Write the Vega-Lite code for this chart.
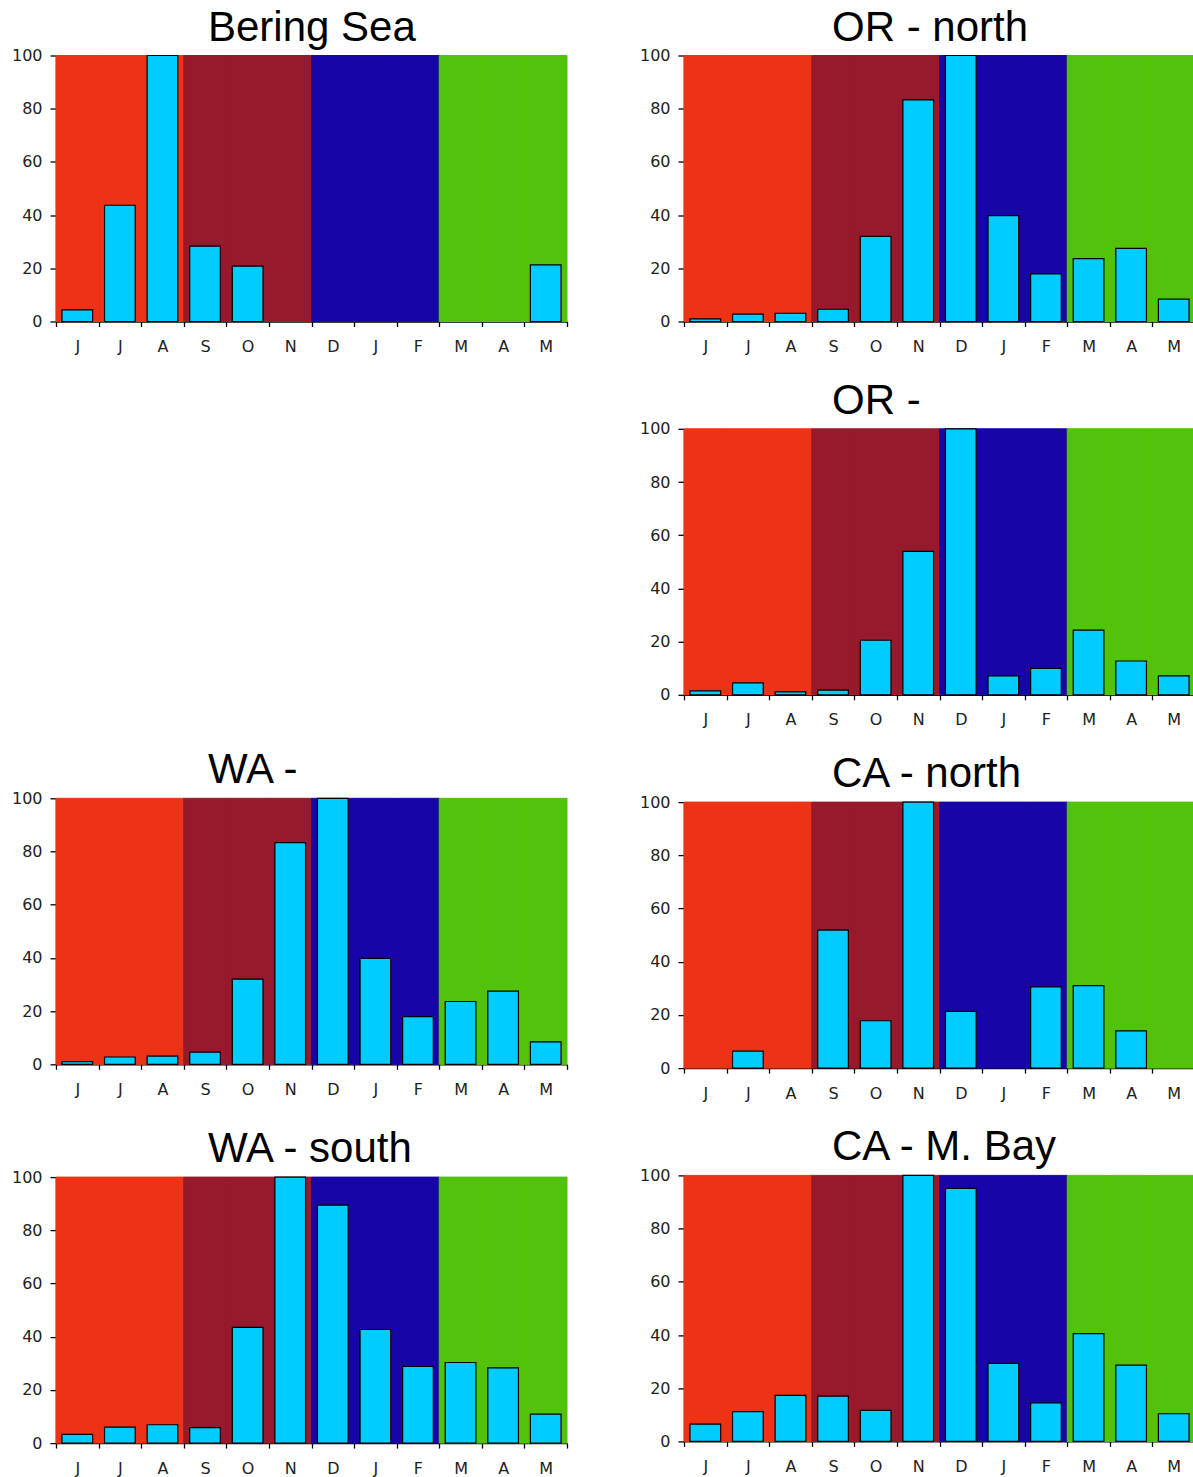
{
  "$schema": "https://vega.github.io/schema/vega-lite/v6.json",
  "padding": {"left": 11, "top": 6.5, "right": 0, "bottom": 0},
  "background": "white",
  "data": {"values": [
    {"panel": "Bering Sea", "month": "Jun", "season": "summer", "value": 4.4},
    {"panel": "Bering Sea", "month": "Jul", "season": "summer", "value": 43.7},
    {"panel": "Bering Sea", "month": "Aug", "season": "summer", "value": 100},
    {"panel": "Bering Sea", "month": "Sep", "season": "autumn", "value": 28.3},
    {"panel": "Bering Sea", "month": "Oct", "season": "autumn", "value": 20.8},
    {"panel": "Bering Sea", "month": "Nov", "season": "autumn", "value": 0},
    {"panel": "Bering Sea", "month": "Dec", "season": "winter", "value": 0},
    {"panel": "Bering Sea", "month": "Jan", "season": "winter", "value": 0},
    {"panel": "Bering Sea", "month": "Feb", "season": "winter", "value": 0},
    {"panel": "Bering Sea", "month": "Mar", "season": "spring", "value": 0},
    {"panel": "Bering Sea", "month": "Apr", "season": "spring", "value": 0},
    {"panel": "Bering Sea", "month": "May", "season": "spring", "value": 21.3},

    {"panel": "OR - north", "month": "Jun", "season": "summer", "value": 1.0},
    {"panel": "OR - north", "month": "Jul", "season": "summer", "value": 2.75},
    {"panel": "OR - north", "month": "Aug", "season": "summer", "value": 3.1},
    {"panel": "OR - north", "month": "Sep", "season": "autumn", "value": 4.6},
    {"panel": "OR - north", "month": "Oct", "season": "autumn", "value": 32},
    {"panel": "OR - north", "month": "Nov", "season": "autumn", "value": 83.3},
    {"panel": "OR - north", "month": "Dec", "season": "winter", "value": 100},
    {"panel": "OR - north", "month": "Jan", "season": "winter", "value": 39.8},
    {"panel": "OR - north", "month": "Feb", "season": "winter", "value": 17.9},
    {"panel": "OR - north", "month": "Mar", "season": "spring", "value": 23.6},
    {"panel": "OR - north", "month": "Apr", "season": "spring", "value": 27.5},
    {"panel": "OR - north", "month": "May", "season": "spring", "value": 8.4},

    {"panel": "OR -", "month": "Jun", "season": "summer", "value": 1.5},
    {"panel": "OR -", "month": "Jul", "season": "summer", "value": 4.5},
    {"panel": "OR -", "month": "Aug", "season": "summer", "value": 1.1},
    {"panel": "OR -", "month": "Sep", "season": "autumn", "value": 1.75},
    {"panel": "OR -", "month": "Oct", "season": "autumn", "value": 20.5},
    {"panel": "OR -", "month": "Nov", "season": "autumn", "value": 53.9},
    {"panel": "OR -", "month": "Dec", "season": "winter", "value": 100},
    {"panel": "OR -", "month": "Jan", "season": "winter", "value": 7.1},
    {"panel": "OR -", "month": "Feb", "season": "winter", "value": 9.9},
    {"panel": "OR -", "month": "Mar", "season": "spring", "value": 24.3},
    {"panel": "OR -", "month": "Apr", "season": "spring", "value": 12.7},
    {"panel": "OR -", "month": "May", "season": "spring", "value": 7.1},

    {"panel": "WA -", "month": "Jun", "season": "summer", "value": 1.0},
    {"panel": "WA -", "month": "Jul", "season": "summer", "value": 2.75},
    {"panel": "WA -", "month": "Aug", "season": "summer", "value": 3.1},
    {"panel": "WA -", "month": "Sep", "season": "autumn", "value": 4.6},
    {"panel": "WA -", "month": "Oct", "season": "autumn", "value": 32},
    {"panel": "WA -", "month": "Nov", "season": "autumn", "value": 83.3},
    {"panel": "WA -", "month": "Dec", "season": "winter", "value": 100},
    {"panel": "WA -", "month": "Jan", "season": "winter", "value": 39.8},
    {"panel": "WA -", "month": "Feb", "season": "winter", "value": 17.9},
    {"panel": "WA -", "month": "Mar", "season": "spring", "value": 23.6},
    {"panel": "WA -", "month": "Apr", "season": "spring", "value": 27.5},
    {"panel": "WA -", "month": "May", "season": "spring", "value": 8.4},

    {"panel": "CA - north", "month": "Jun", "season": "summer", "value": 0},
    {"panel": "CA - north", "month": "Jul", "season": "summer", "value": 6.4},
    {"panel": "CA - north", "month": "Aug", "season": "summer", "value": 0},
    {"panel": "CA - north", "month": "Sep", "season": "autumn", "value": 51.9},
    {"panel": "CA - north", "month": "Oct", "season": "autumn", "value": 17.8},
    {"panel": "CA - north", "month": "Nov", "season": "autumn", "value": 100},
    {"panel": "CA - north", "month": "Dec", "season": "winter", "value": 21.3},
    {"panel": "CA - north", "month": "Jan", "season": "winter", "value": 0},
    {"panel": "CA - north", "month": "Feb", "season": "winter", "value": 30.5},
    {"panel": "CA - north", "month": "Mar", "season": "spring", "value": 31},
    {"panel": "CA - north", "month": "Apr", "season": "spring", "value": 14},
    {"panel": "CA - north", "month": "May", "season": "spring", "value": 0},

    {"panel": "WA - south", "month": "Jun", "season": "summer", "value": 3.3},
    {"panel": "WA - south", "month": "Jul", "season": "summer", "value": 6.0},
    {"panel": "WA - south", "month": "Aug", "season": "summer", "value": 6.9},
    {"panel": "WA - south", "month": "Sep", "season": "autumn", "value": 5.8},
    {"panel": "WA - south", "month": "Oct", "season": "autumn", "value": 43.5},
    {"panel": "WA - south", "month": "Nov", "season": "autumn", "value": 100},
    {"panel": "WA - south", "month": "Dec", "season": "winter", "value": 89.5},
    {"panel": "WA - south", "month": "Jan", "season": "winter", "value": 42.7},
    {"panel": "WA - south", "month": "Feb", "season": "winter", "value": 28.8},
    {"panel": "WA - south", "month": "Mar", "season": "spring", "value": 30.3},
    {"panel": "WA - south", "month": "Apr", "season": "spring", "value": 28.3},
    {"panel": "WA - south", "month": "May", "season": "spring", "value": 10.9},

    {"panel": "CA - M. Bay", "month": "Jun", "season": "summer", "value": 6.5},
    {"panel": "CA - M. Bay", "month": "Jul", "season": "summer", "value": 11.2},
    {"panel": "CA - M. Bay", "month": "Aug", "season": "summer", "value": 17.3},
    {"panel": "CA - M. Bay", "month": "Sep", "season": "autumn", "value": 17.0},
    {"panel": "CA - M. Bay", "month": "Oct", "season": "autumn", "value": 11.7},
    {"panel": "CA - M. Bay", "month": "Nov", "season": "autumn", "value": 100},
    {"panel": "CA - M. Bay", "month": "Dec", "season": "winter", "value": 95.1},
    {"panel": "CA - M. Bay", "month": "Jan", "season": "winter", "value": 29.3},
    {"panel": "CA - M. Bay", "month": "Feb", "season": "winter", "value": 14.5},
    {"panel": "CA - M. Bay", "month": "Mar", "season": "spring", "value": 40.5},
    {"panel": "CA - M. Bay", "month": "Apr", "season": "spring", "value": 28.7},
    {"panel": "CA - M. Bay", "month": "May", "season": "spring", "value": 10.4}
  ]},
  "spacing": 71,
  "hconcat": [
    {
      "spacing": 394.8,
      "vconcat": [
        {
          "title": {"text": "Bering Sea", "dx": 152, "offset": -2},
          "width": 511, "height": 266,
          "transform": [{"filter": {"field": "panel", "equal": "Bering Sea"}}],
          "encoding": {"x": {"field": "month", "type": "nominal", "scale": {"domain": ["Jun","Jul","Aug","Sep","Oct","Nov","Dec","Jan","Feb","Mar","Apr","May"], "paddingInner": 0, "paddingOuter": 0}, "axis": {"title": null, "labelAngle": 0, "labelExpr": "substring(datum.label, 0, 1)"}}},
          "layer": [
            {"mark": {"type": "bar", "width": {"band": 1}, "strokeWidth": 1},
             "encoding": {
               "y": {"datum": 100, "type": "quantitative", "scale": {"domain": [0, 100]}, "title": null, "axis": {"values": [0,20,40,60,80,100]}},
               "color": {"field": "season", "type": "nominal", "scale": {"domain": ["summer","autumn","winter","spring"], "range": ["#ED3215","#961A2B","#1805A8","#53C20A"]}, "legend": null},
               "stroke": {"field": "season", "type": "nominal", "scale": {"domain": ["summer","autumn","winter","spring"], "range": ["#ED3215","#961A2B","#1805A8","#53C20A"]}, "legend": null}}},
            {"transform": [{"filter": "datum.value > 0"}],
             "mark": {"type": "bar", "width": {"band": 0.72}, "fill": "#00CCFF", "stroke": "black", "strokeWidth": 1.2},
             "encoding": {"y": {"field": "value", "type": "quantitative", "scale": {"domain": [0, 100]}, "title": null}}}
          ]
        },
        {
          "spacing": 30.8,
          "vconcat": [
            {
              "title": {"text": "WA -", "dx": 152, "offset": -2},
              "width": 511, "height": 266,
              "transform": [{"filter": {"field": "panel", "equal": "WA -"}}],
              "encoding": {"x": {"field": "month", "type": "nominal", "scale": {"domain": ["Jun","Jul","Aug","Sep","Oct","Nov","Dec","Jan","Feb","Mar","Apr","May"], "paddingInner": 0, "paddingOuter": 0}, "axis": {"title": null, "labelAngle": 0, "labelExpr": "substring(datum.label, 0, 1)"}}},
              "layer": [
                {"mark": {"type": "bar", "width": {"band": 1}, "strokeWidth": 1},
                 "encoding": {
                   "y": {"datum": 100, "type": "quantitative", "scale": {"domain": [0, 100]}, "title": null, "axis": {"values": [0,20,40,60,80,100]}},
                   "color": {"field": "season", "type": "nominal", "scale": {"domain": ["summer","autumn","winter","spring"], "range": ["#ED3215","#961A2B","#1805A8","#53C20A"]}, "legend": null},
                   "stroke": {"field": "season", "type": "nominal", "scale": {"domain": ["summer","autumn","winter","spring"], "range": ["#ED3215","#961A2B","#1805A8","#53C20A"]}, "legend": null}}},
                {"transform": [{"filter": "datum.value > 0"}],
                 "mark": {"type": "bar", "width": {"band": 0.72}, "fill": "#00CCFF", "stroke": "black", "strokeWidth": 1.2},
                 "encoding": {"y": {"field": "value", "type": "quantitative", "scale": {"domain": [0, 100]}, "title": null}}}
              ]
            },
            {
              "title": {"text": "WA - south", "dx": 152, "offset": -2},
              "width": 511, "height": 266,
              "transform": [{"filter": {"field": "panel", "equal": "WA - south"}}],
              "encoding": {"x": {"field": "month", "type": "nominal", "scale": {"domain": ["Jun","Jul","Aug","Sep","Oct","Nov","Dec","Jan","Feb","Mar","Apr","May"], "paddingInner": 0, "paddingOuter": 0}, "axis": {"title": null, "labelAngle": 0, "labelExpr": "substring(datum.label, 0, 1)"}}},
              "layer": [
                {"mark": {"type": "bar", "width": {"band": 1}, "strokeWidth": 1},
                 "encoding": {
                   "y": {"datum": 100, "type": "quantitative", "scale": {"domain": [0, 100]}, "title": null, "axis": {"values": [0,20,40,60,80,100]}},
                   "color": {"field": "season", "type": "nominal", "scale": {"domain": ["summer","autumn","winter","spring"], "range": ["#ED3215","#961A2B","#1805A8","#53C20A"]}, "legend": null},
                   "stroke": {"field": "season", "type": "nominal", "scale": {"domain": ["summer","autumn","winter","spring"], "range": ["#ED3215","#961A2B","#1805A8","#53C20A"]}, "legend": null}}},
                {"transform": [{"filter": "datum.value > 0"}],
                 "mark": {"type": "bar", "width": {"band": 0.72}, "fill": "#00CCFF", "stroke": "black", "strokeWidth": 1.2},
                 "encoding": {"y": {"field": "value", "type": "quantitative", "scale": {"domain": [0, 100]}, "title": null}}}
              ]
            }
          ]
        }
      ]
    },
    {
      "spacing": 25.3,
      "vconcat": [
        {
          "title": {"text": "OR - north", "dx": 148, "offset": -2},
          "width": 511, "height": 266,
          "transform": [{"filter": {"field": "panel", "equal": "OR - north"}}],
          "encoding": {"x": {"field": "month", "type": "nominal", "scale": {"domain": ["Jun","Jul","Aug","Sep","Oct","Nov","Dec","Jan","Feb","Mar","Apr","May"], "paddingInner": 0, "paddingOuter": 0}, "axis": {"title": null, "labelAngle": 0, "labelExpr": "substring(datum.label, 0, 1)"}}},
          "layer": [
            {"mark": {"type": "bar", "width": {"band": 1}, "strokeWidth": 1},
             "encoding": {
               "y": {"datum": 100, "type": "quantitative", "scale": {"domain": [0, 100]}, "title": null, "axis": {"values": [0,20,40,60,80,100]}},
               "color": {"field": "season", "type": "nominal", "scale": {"domain": ["summer","autumn","winter","spring"], "range": ["#ED3215","#961A2B","#1805A8","#53C20A"]}, "legend": null},
               "stroke": {"field": "season", "type": "nominal", "scale": {"domain": ["summer","autumn","winter","spring"], "range": ["#ED3215","#961A2B","#1805A8","#53C20A"]}, "legend": null}}},
            {"transform": [{"filter": "datum.value > 0"}],
             "mark": {"type": "bar", "width": {"band": 0.72}, "fill": "#00CCFF", "stroke": "black", "strokeWidth": 1.2},
             "encoding": {"y": {"field": "value", "type": "quantitative", "scale": {"domain": [0, 100]}, "title": null}}}
          ]
        },
        {
          "title": {"text": "OR -", "dx": 148, "offset": -2},
          "width": 511, "height": 266,
          "transform": [{"filter": {"field": "panel", "equal": "OR -"}}],
          "encoding": {"x": {"field": "month", "type": "nominal", "scale": {"domain": ["Jun","Jul","Aug","Sep","Oct","Nov","Dec","Jan","Feb","Mar","Apr","May"], "paddingInner": 0, "paddingOuter": 0}, "axis": {"title": null, "labelAngle": 0, "labelExpr": "substring(datum.label, 0, 1)"}}},
          "layer": [
            {"mark": {"type": "bar", "width": {"band": 1}, "strokeWidth": 1},
             "encoding": {
               "y": {"datum": 100, "type": "quantitative", "scale": {"domain": [0, 100]}, "title": null, "axis": {"values": [0,20,40,60,80,100]}},
               "color": {"field": "season", "type": "nominal", "scale": {"domain": ["summer","autumn","winter","spring"], "range": ["#ED3215","#961A2B","#1805A8","#53C20A"]}, "legend": null},
               "stroke": {"field": "season", "type": "nominal", "scale": {"domain": ["summer","autumn","winter","spring"], "range": ["#ED3215","#961A2B","#1805A8","#53C20A"]}, "legend": null}}},
            {"transform": [{"filter": "datum.value > 0"}],
             "mark": {"type": "bar", "width": {"band": 0.72}, "fill": "#00CCFF", "stroke": "black", "strokeWidth": 1.2},
             "encoding": {"y": {"field": "value", "type": "quantitative", "scale": {"domain": [0, 100]}, "title": null}}}
          ]
        },
        {
          "title": {"text": "CA - north", "dx": 148, "offset": -2},
          "width": 511, "height": 266,
          "transform": [{"filter": {"field": "panel", "equal": "CA - north"}}],
          "encoding": {"x": {"field": "month", "type": "nominal", "scale": {"domain": ["Jun","Jul","Aug","Sep","Oct","Nov","Dec","Jan","Feb","Mar","Apr","May"], "paddingInner": 0, "paddingOuter": 0}, "axis": {"title": null, "labelAngle": 0, "labelExpr": "substring(datum.label, 0, 1)"}}},
          "layer": [
            {"mark": {"type": "bar", "width": {"band": 1}, "strokeWidth": 1},
             "encoding": {
               "y": {"datum": 100, "type": "quantitative", "scale": {"domain": [0, 100]}, "title": null, "axis": {"values": [0,20,40,60,80,100]}},
               "color": {"field": "season", "type": "nominal", "scale": {"domain": ["summer","autumn","winter","spring"], "range": ["#ED3215","#961A2B","#1805A8","#53C20A"]}, "legend": null},
               "stroke": {"field": "season", "type": "nominal", "scale": {"domain": ["summer","autumn","winter","spring"], "range": ["#ED3215","#961A2B","#1805A8","#53C20A"]}, "legend": null}}},
            {"transform": [{"filter": "datum.value > 0"}],
             "mark": {"type": "bar", "width": {"band": 0.72}, "fill": "#00CCFF", "stroke": "black", "strokeWidth": 1.2},
             "encoding": {"y": {"field": "value", "type": "quantitative", "scale": {"domain": [0, 100]}, "title": null}}}
          ]
        },
        {
          "title": {"text": "CA - M. Bay", "dx": 148, "offset": -2},
          "width": 511, "height": 266,
          "transform": [{"filter": {"field": "panel", "equal": "CA - M. Bay"}}],
          "encoding": {"x": {"field": "month", "type": "nominal", "scale": {"domain": ["Jun","Jul","Aug","Sep","Oct","Nov","Dec","Jan","Feb","Mar","Apr","May"], "paddingInner": 0, "paddingOuter": 0}, "axis": {"title": null, "labelAngle": 0, "labelExpr": "substring(datum.label, 0, 1)"}}},
          "layer": [
            {"mark": {"type": "bar", "width": {"band": 1}, "strokeWidth": 1},
             "encoding": {
               "y": {"datum": 100, "type": "quantitative", "scale": {"domain": [0, 100]}, "title": null, "axis": {"values": [0,20,40,60,80,100]}},
               "color": {"field": "season", "type": "nominal", "scale": {"domain": ["summer","autumn","winter","spring"], "range": ["#ED3215","#961A2B","#1805A8","#53C20A"]}, "legend": null},
               "stroke": {"field": "season", "type": "nominal", "scale": {"domain": ["summer","autumn","winter","spring"], "range": ["#ED3215","#961A2B","#1805A8","#53C20A"]}, "legend": null}}},
            {"transform": [{"filter": "datum.value > 0"}],
             "mark": {"type": "bar", "width": {"band": 0.72}, "fill": "#00CCFF", "stroke": "black", "strokeWidth": 1.2},
             "encoding": {"y": {"field": "value", "type": "quantitative", "scale": {"domain": [0, 100]}, "title": null}}}
          ]
        }
      ]
    }
  ],
  "config": {
    "view": {"stroke": null},
    "axis": {"domainColor": "black", "tickColor": "black", "domainWidth": 1.3, "tickWidth": 1.3, "labelFont": "DejaVu Sans", "labelFontSize": 16, "labelColor": "#222222", "grid": false},
    "axisX": {"tickSize": 5, "labelPadding": 12, "tickBand": "extent"},
    "axisY": {"tickSize": 6, "labelPadding": 8},
    "title": {"font": "Liberation Sans", "fontSize": 42, "fontWeight": "normal", "anchor": "start", "frame": "group", "color": "black", "baseline": "alphabetic"}
  }
}
